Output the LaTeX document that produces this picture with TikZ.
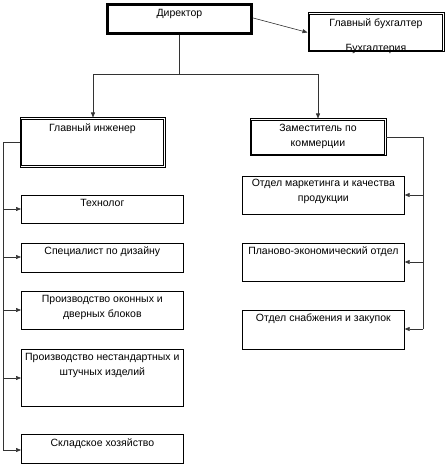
\documentclass[tikz,border=0pt]{standalone}
\usepackage{fontspec}
\setmainfont{Liberation Sans}
\usetikzlibrary{arrows.meta}
\tikzset{
  box/.style={draw, line width=0.7pt, anchor=north west, inner sep=0pt},
  dbox/.style={box, line width=0.9pt},
  txt/.style={anchor=north, font=\fontsize{10.5}{15}\selectfont, align=center, inner sep=0pt},
  conn/.style={line width=0.6pt, draw=black!80},
  arr/.style={conn, -{Triangle[length=5pt,width=4pt]}},
}
\newcommand{\innerbox}[2]{\draw[line width=#2] ([shift={(2.2pt,-2.2pt)}]#1.north west) rectangle ([shift={(-2.2pt,2.2pt)}]#1.south east);}
\begin{document}
\begin{tikzpicture}[x=1pt,y=-1pt]
\useasboundingbox (0,0) rectangle (445,465);
% Director
\node[box, line width=1.8pt, minimum width=145, minimum height=30] (dir) at (106,3) {};
\innerbox{dir}{0.7pt}
\node[txt] at ([yshift=-6]dir.north) {Директор};
% Chief accountant
\node[dbox, minimum width=136, minimum height=39] (acc) at (307.5,12.5) {};
\innerbox{acc}{0.8pt}
\node[txt] at ([yshift=-6.5]acc.north) {Главный бухгалтер};
\node[txt] at ([yshift=-31.5]acc.north) {Бухгалтерия};
% Chief engineer
\node[dbox, minimum width=145, minimum height=49] (eng) at (19.5,117.5) {};
\innerbox{eng}{0.8pt}
\node[txt] at ([yshift=-6.5]eng.north) {Главный инженер};
% Deputy
\node[dbox, minimum width=136, minimum height=37] (dep) at (249.5,118.5) {};
\innerbox{dep}{0.8pt}
\node[txt] at ([yshift=-5]dep.north) {Заместитель по\\коммерции};
% Left column
\node[box, minimum width=162, minimum height=28] (tech) at (21,195) {};
\node[txt] at ([yshift=-3.7]tech.north) {Технолог};
\node[box, minimum width=162, minimum height=29] (des) at (21,243) {};
\node[txt] at ([yshift=-3.7]des.north) {Специалист по дизайну};
\node[box, minimum width=162, minimum height=38] (win) at (21,291) {};
\node[txt] at ([yshift=-4]win.north) {Производство оконных и\\дверных блоков};
\node[box, minimum width=162, minimum height=57] (nst) at (21,349) {};
\node[txt] at ([yshift=-3.7]nst.north) {Производство нестандартных и\\штучных изделий};
\node[box, minimum width=162, minimum height=29] (sklad) at (21,434) {};
\node[txt] at ([yshift=-5]sklad.north) {Складское хозяйство};
% Right column
\node[box, minimum width=162, minimum height=38] (mkt) at (242,176) {};
\node[txt] at ([yshift=-3.3]mkt.north) {Отдел маркетинга и качества\\продукции};
\node[box, minimum width=162, minimum height=38] (plan) at (242,243) {};
\node[txt] at ([yshift=-3.7]plan.north) {Планово-экономический отдел};
\node[box, minimum width=162, minimum height=39] (snab) at (242,310) {};
\node[txt] at ([yshift=-4]snab.north) {Отдел снабжения и закупок};
% Connectors
\coordinate (split) at (179,74);
\draw[arr] ([yshift=1]dir.east) -- (acc.west);
\draw[conn] (dir.south -| split) -- (split);
\draw[arr] (split) -| (eng.north -| 93,0);
\draw[arr] (split) -| (dep.north -| 318,0);
\coordinate (lb) at (3,142);
\draw[conn] (eng.west |- lb) -- (lb) -- (3,450);
\foreach \n/\y in {tech/209, des/257, win/310, nst/378, sklad/450}
  \draw[arr] (3,\y) -- (\n.west |- 0,\y);
\coordinate (rb) at (423,137);
\draw[conn] (dep.east |- rb) -- (rb) -- (423,329);
\foreach \n/\y in {mkt/195, plan/262, snab/329}
  \draw[arr] (423,\y) -- (\n.east |- 0,\y);
\end{tikzpicture}
\end{document}
